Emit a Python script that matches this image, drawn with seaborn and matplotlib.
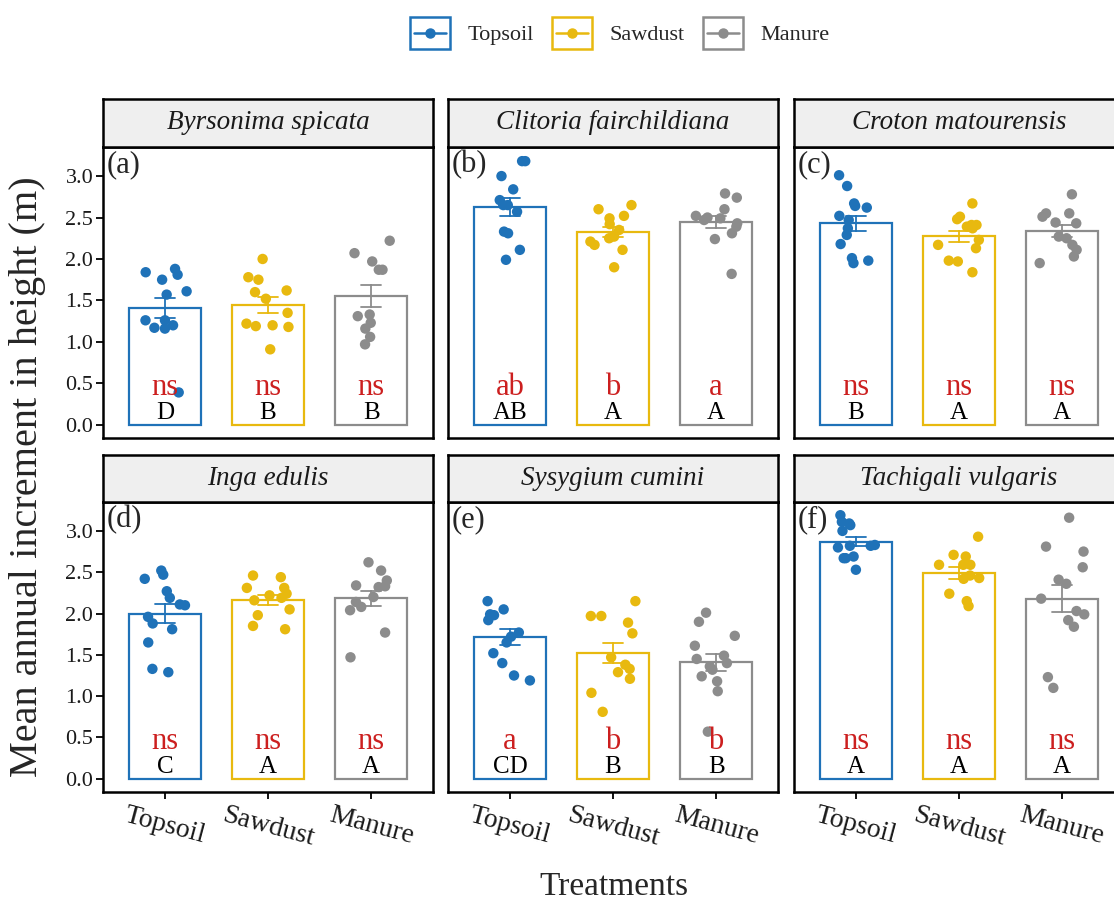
import numpy as np
import pandas as pd
import matplotlib
matplotlib.use('Agg')
import matplotlib.pyplot as plt
import seaborn as sns
from matplotlib.lines import Line2D
from matplotlib.patches import Rectangle
from matplotlib.legend_handler import HandlerBase

# Datos: incremento medio anual en altura (m)
tratamientos = ['Topsoil', 'Sawdust', 'Manure']
colores = ['#1f72b8', '#e8b90f', '#8c8c8c']

especies = ['Byrsonima spicata', 'Clitoria fairchildiana', 'Croton matourensis',
            'Inga edulis', 'Sysygium cumini', 'Tachigali vulgaris']
etiquetas_panel = ['(a)', '(b)', '(c)', '(d)', '(e)', '(f)']

byrsonima = [
    [1.84, 1.81, 1.75, 1.88, 1.61, 1.57, 1.26, 1.26, 1.17, 1.16, 1.20, 0.39],
    [2.00, 1.78, 1.75, 1.62, 1.60, 1.52, 1.35, 1.22, 1.20, 1.18, 1.19, 0.91],
    [2.22, 2.07, 1.97, 1.87, 1.87, 1.33, 1.31, 1.23, 1.16, 1.06, 0.97],
]
clitoria = [
    [3.18, 3.18, 3.00, 2.84, 2.71, 2.65, 2.65, 2.57, 2.33, 2.31, 2.11, 1.99],
    [2.65, 2.60, 2.52, 2.49, 2.42, 2.35, 2.27, 2.25, 2.21, 2.17, 2.11, 1.90],
    [2.79, 2.74, 2.60, 2.52, 2.50, 2.49, 2.47, 2.43, 2.39, 2.31, 2.24, 1.82],
]
croton = [
    [3.01, 2.88, 2.67, 2.62, 2.64, 2.52, 2.47, 2.37, 2.29, 2.18, 2.01, 1.95, 1.98],
    [2.67, 2.51, 2.48, 2.41, 2.41, 2.39, 2.37, 2.23, 2.17, 2.13, 1.98, 1.97, 1.84],
    [2.78, 2.55, 2.55, 2.51, 2.44, 2.43, 2.27, 2.25, 2.17, 2.11, 2.03, 1.95],
]
inga = [
    [2.52, 2.47, 2.42, 2.27, 2.19, 2.11, 2.10, 1.96, 1.88, 1.81, 1.65, 1.33, 1.29],
    [2.46, 2.44, 2.31, 2.31, 2.22, 2.19, 2.05, 1.98, 1.85, 1.81, 2.24, 2.16],
    [2.62, 2.52, 2.40, 2.34, 2.32, 2.33, 2.20, 2.14, 2.04, 2.08, 1.77, 1.47],
]
sysygium = [
    [2.15, 2.05, 1.99, 1.98, 1.92, 1.72, 1.77, 1.65, 1.52, 1.40, 1.25, 1.19],
    [2.15, 1.97, 1.97, 1.89, 1.76, 1.47, 1.38, 1.33, 1.29, 1.21, 1.04, 0.81],
    [2.01, 1.90, 1.73, 1.61, 1.49, 1.45, 1.36, 1.32, 1.24, 1.18, 1.06, 0.57, 1.40],
]
tachigali = [
    [3.19, 3.11, 3.09, 3.07, 3.00, 2.83, 2.82, 2.80, 2.82, 2.67, 2.69, 2.67, 2.53],
    [2.93, 2.71, 2.69, 2.59, 2.59, 2.59, 2.46, 2.43, 2.42, 2.24, 2.15, 2.09],
    [3.16, 2.81, 2.75, 2.56, 2.41, 2.36, 2.18, 1.99, 2.03, 1.92, 1.84, 1.23, 1.10],
]
datos_especies = [byrsonima, clitoria, croton, inga, sysygium, tachigali]

letras_rojas = [['ns', 'ns', 'ns'], ['ab', 'b', 'a'], ['ns', 'ns', 'ns'],
                ['ns', 'ns', 'ns'], ['a', 'b', 'b'], ['ns', 'ns', 'ns']]
letras_negras = [['D', 'B', 'B'], ['AB', 'A', 'A'], ['B', 'A', 'A'],
                 ['C', 'A', 'A'], ['CD', 'B', 'B'], ['A', 'A', 'A']]


class HandlerCaja(HandlerBase):
    """Clave de leyenda estilo ggplot: caja coloreada con línea y punto."""
    def create_artists(self, legend, orig_handle, xdescent, ydescent, width, height, fontsize, trans):
        c = orig_handle.get_color()
        x0, y0 = -xdescent, -ydescent
        caja = Rectangle((x0, y0), width, height, facecolor='white', edgecolor=c, lw=1.8, transform=trans)
        linea = Line2D([x0 + 0.1 * width, x0 + 0.9 * width], [y0 + height / 2] * 2, color=c, lw=1.8, transform=trans)
        punto = Line2D([x0 + width / 2], [y0 + height / 2], marker='o', ms=6.5, color=c, lw=0, transform=trans)
        return [caja, linea, punto]


sns.set_theme(style='white')
plt.rcParams['font.family'] = ['Liberation Serif', 'DejaVu Serif']
np.random.seed(7)

fig = plt.figure(figsize=(11.14, 9.05), dpi=100)

izq = [0.0925, 0.4022, 0.7127]
ancho = 0.2962
filas = [(0.516, 0.3215, 0.8376, 0.053), (0.1249, 0.3204, 0.4453, 0.0519)]

for i, especie in enumerate(especies):
    fila, col = divmod(i, 3)
    y0, h, ys, hs = filas[fila]
    ax = fig.add_axes([izq[col], y0, ancho, h])
    ax_tira = fig.add_axes([izq[col], ys, ancho, hs])

    df = pd.DataFrame({
        'tratamiento': np.concatenate([[t] * len(v) for t, v in zip(tratamientos, datos_especies[i])]),
        'valor': np.concatenate(datos_especies[i]),
    })

    # Barras (media) con error estándar, contorno del color del tratamiento
    for t, c in zip(tratamientos, colores):
        sns.barplot(data=df[df['tratamiento'] == t], x='tratamiento', y='valor', order=tratamientos,
                    errorbar='se', capsize=0.2, fill=False, color=c, linewidth=1.6, width=0.7,
                    err_kws={'color': c, 'linewidth': 1.3}, ax=ax)

    sns.stripplot(data=df, x='tratamiento', y='valor', hue='tratamiento', order=tratamientos,
                  hue_order=tratamientos, palette=colores, jitter=0.22, size=7.5, linewidth=0,
                  legend=False, ax=ax, zorder=3)

    for j in range(3):
        ax.text(j, 0.355, letras_rojas[i][j], color='#cc1f1f', fontsize=22, ha='center', va='baseline', zorder=4)
        ax.text(j, 0.075, letras_negras[i][j], color='black', fontsize=18, ha='center', va='baseline', zorder=4)

    ax.text(0.012, 0.99, etiquetas_panel[i], transform=ax.transAxes, fontsize=22, ha='left', va='top')

    ax.set_xlim(-0.6, 2.6)
    ax.set_ylim(-0.16, 3.35)
    ax.set_xlabel('')
    ax.set_ylabel('')
    ax.set_yticks(np.arange(0, 3.01, 0.5))
    ax.set_yticklabels([f'{v:.1f}' for v in np.arange(0, 3.01, 0.5)])
    ax.tick_params(axis='both', direction='out', length=5, width=1.3, color='black',
                   labelsize=16, labelcolor='#1a1a1a', pad=2)
    if col != 0:
        ax.tick_params(axis='y', left=False, labelleft=False)
    else:
        ax.tick_params(axis='y', left=True)
    if fila == 0:
        ax.tick_params(axis='x', bottom=False, labelbottom=False)
    else:
        ax.tick_params(axis='x', bottom=True, labelsize=20, pad=3)
        for lbl in ax.get_xticklabels():
            lbl.set_rotation(-15)
            lbl.set_ha('center')
    for s in ax.spines.values():
        s.set_color('black')
        s.set_linewidth(1.8)

    # Tira superior con el nombre de la especie
    ax_tira.set_facecolor('#efefef')
    ax_tira.set_xticks([])
    ax_tira.set_yticks([])
    for s in ax_tira.spines.values():
        s.set_color('black')
        s.set_linewidth(1.8)
    ax_tira.text(0.5, 0.5, especie, transform=ax_tira.transAxes, fontsize=19.5, style='italic',
                 ha='center', va='center', color='#1a1a1a')

fig.text(0.025, 0.473, 'Mean annual increment in height (m)', rotation=90, fontsize=29,
         ha='center', va='center')
fig.text(0.551, 0.02, 'Treatments', fontsize=24, ha='center', va='center')

manijas = [Line2D([], [], color=c) for c in colores]
fig.legend(manijas, tratamientos, loc='center', bbox_to_anchor=(620 / 1114, 1 - 33 / 905), ncol=3,
           frameon=False, fontsize=16, handlelength=1.8, handleheight=1.8, handletextpad=0.8,
           columnspacing=0.8, handler_map={Line2D: HandlerCaja()})

plt.savefig('out.png', dpi=100)
plt.close()
